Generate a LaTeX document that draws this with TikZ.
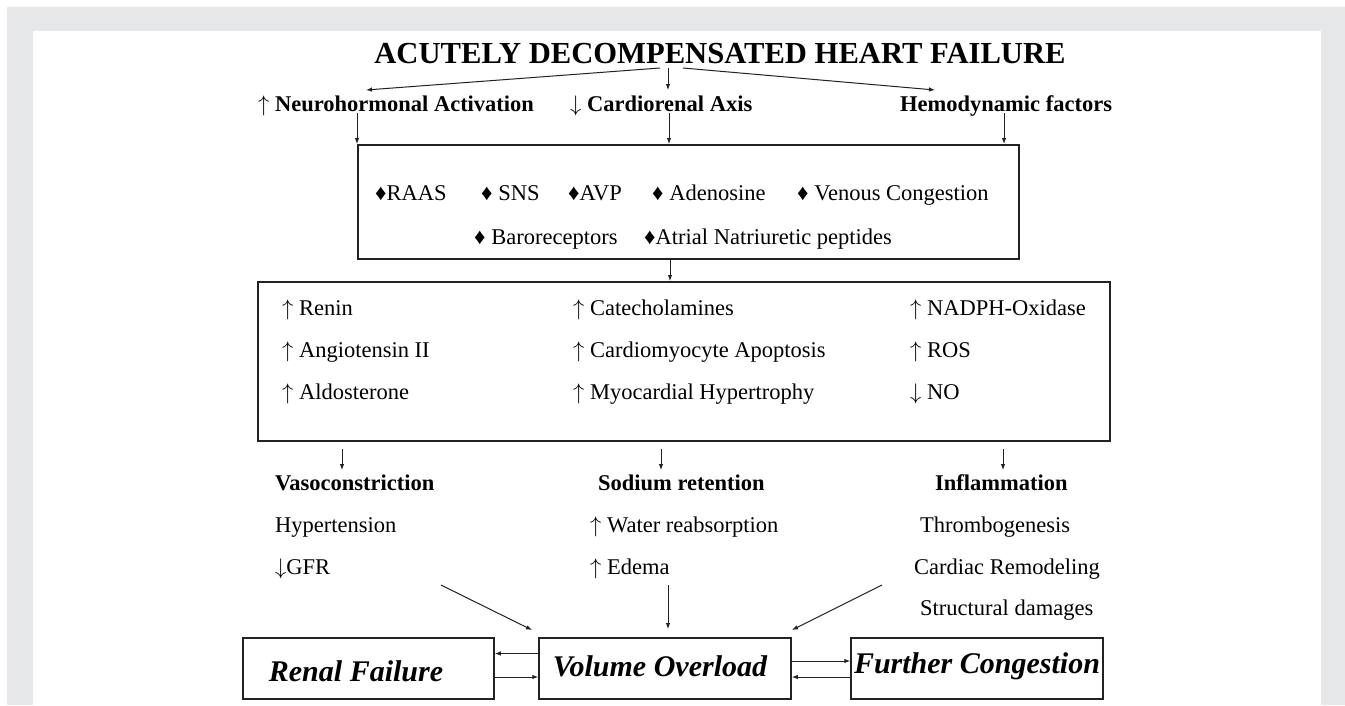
\documentclass[tikz,border=0pt]{standalone}
\usepackage{fix-cm}
\usepackage{fontspec}
\setmainfont{Liberation Serif}
\usetikzlibrary{arrows.meta}
\definecolor{bggray}{HTML}{E6E7E9}
\definecolor{ink}{HTML}{222222}
\newcommand{\up}{$\uparrow$}
\newcommand{\dn}{$\downarrow$}
\begin{document}
\begin{tikzpicture}[x=1pt,y=-1pt,
  box/.style={draw=ink, line width=1.5pt, inner sep=0pt},
  arr/.style={draw=ink, line width=1pt, -{Latex[length=6pt,width=4.5pt]}},
  tx/.style={anchor=base west, inner sep=0pt, text=black, font=\fontsize{22.5}{24}\selectfont},
  bx/.style={anchor=base west, inner sep=0pt, text=black, font=\bfseries\fontsize{22.5}{24}\selectfont},
  big/.style={anchor=base, inner sep=0pt, font=\bfseries\itshape\fontsize{30}{32}\selectfont, text=black}]
\useasboundingbox (0,0) rectangle (1345,705);
\fill[white] (0,0) rectangle (1345,705);
\fill[bggray] (7,7) rectangle (1345,705);
\fill[white] (33,31) rectangle (1321,705);

% title
\node[inner sep=0pt, anchor=base, font=\bfseries\fontsize{30.6}{34}\selectfont] (title) at (720,63) {ACUTELY DECOMPENSATED HEART FAILURE};
\coordinate (t1) at (660,68);
\coordinate (t2) at (668,68);
\coordinate (t3) at (683,68);
\coordinate (h1) at (366,90);
\coordinate (h2) at (668,90);
\coordinate (h3) at (935,90);
\draw[arr] (t1) -- (h1);
\draw[arr] (t2) -- (h2);
\draw[arr] (t3) -- (h3);

% second row
\node[bx] (neuro) at (258,111) {\up\ Neurohormonal Activation};
\node[bx] (cardio) at (570,111) {\dn\ Cardiorenal Axis};
\node[bx] (hemo) at (900,111) {Hemodynamic factors};

% box 1
\node[box, anchor=north west, minimum width=661pt, minimum height=114pt] (b1) at (357,144) {};
\coordinate (d1) at (357,113);
\coordinate (d2) at (669,113);
\coordinate (d3) at (1004,113);
\draw[arr] (d1) -- (d1 |- b1.north);
\draw[arr] (d2) -- (d2 |- b1.north);
\draw[arr] (d3) -- (d3 |- b1.north);

\node[tx] (raas) at (375,200) {♦RAAS};
\node[tx] (sns) at (481,200) {♦ SNS};
\node[tx] (avp) at (568,200) {♦AVP};
\node[tx] (aden) at (652,200) {♦ Adenosine};
\node[tx] (venous) at (797,200) {♦ Venous Congestion};
\node[tx] (baro) at (474,244) {♦ Baroreceptors};
\node[tx] (anp) at (644,244) {♦Atrial Natriuretic peptides};

% box 2
\node[box, anchor=north west, minimum width=852pt, minimum height=159pt] (b2) at (257,281) {};
\coordinate (m1) at (670,258);
\draw[arr] (b1.south -| m1) -- (b2.north -| m1);

\node[tx] (renin) at (282,315) {\up\ Renin};
\node[tx] (angio) at (282,357) {\up\ Angiotensin II};
\node[tx] (aldo) at (282,399) {\up\ Aldosterone};
\node[tx] (cate) at (573,315) {\up\ Catecholamines};
\node[tx] (apop) at (573,357) {\up\ Cardiomyocyte Apoptosis};
\node[tx] (hyper) at (573,399) {\up\ Myocardial Hypertrophy};
\node[tx] (nadph) at (910,315) {\up\ NADPH-Oxidase};
\node[tx] (ros) at (910,357) {\up\ ROS};
\node[tx] (no) at (910,399) {\dn\ NO};

% arrows below box 2
\coordinate (e1) at (342,470);
\coordinate (e2) at (661,470);
\coordinate (e3) at (1003,470);
\draw[arr] ([yshift=-7pt]b2.south -| e1) -- (e1);
\draw[arr] ([yshift=-7pt]b2.south -| e2) -- (e2);
\draw[arr] ([yshift=-7pt]b2.south -| e3) -- (e3);

% consequences
\node[bx] (vaso) at (275,490) {Vasoconstriction};
\node[tx] (hyt) at (275,532) {Hypertension};
\node[tx] (gfr) at (275,574) {\dn GFR};
\node[bx] (sodium) at (598,490) {Sodium retention};
\node[tx] (water) at (590,532) {\up\ Water reabsorption};
\node[tx] (edema) at (590,574) {\up\ Edema};
\node[bx] (infl) at (935,490) {Inflammation};
\node[tx] (thromb) at (920,532) {Thrombogenesis};
\node[tx] (remod) at (914,574) {Cardiac Remodeling};
\node[tx] (struct) at (920,615) {Structural damages};

% bottom boxes
\node[box, minimum width=251pt, minimum height=61pt] (renal) at (368.5,668.5) {};
\node[box, minimum width=252pt, minimum height=61pt] (vol) at (665,668.5) {};
\node[box, minimum width=252pt, minimum height=61pt] (further) at (977,668.5) {};
\node[big] (renaltx) at (356,681) {Renal Failure};
\node[big] (voltx) at (660,676) {Volume Overload};
\node[big] (furthertx) at (977,673) {Further Congestion};

\coordinate (s1) at (441,585);
\coordinate (g1) at (532,630);
\coordinate (s2) at (668,585);
\coordinate (g2) at (668,629);
\coordinate (s3) at (882,585);
\coordinate (g3) at (792,630);
\draw[arr] (s1) -- (g1);
\draw[arr] (s2) -- (g2);
\draw[arr] (s3) -- (g3);

\draw[arr] ([yshift=15pt]vol.west) -- ([yshift=15pt]renal.east);
\draw[arr] ([yshift=-8.5pt]renal.east) -- ([yshift=-8.5pt]vol.west);
\draw[arr] ([yshift=7.5pt]vol.east) -- ([yshift=7.5pt]further.west);
\draw[arr] ([yshift=-8.5pt]further.west) -- ([yshift=-8.5pt]vol.east);
\end{tikzpicture}
\end{document}
